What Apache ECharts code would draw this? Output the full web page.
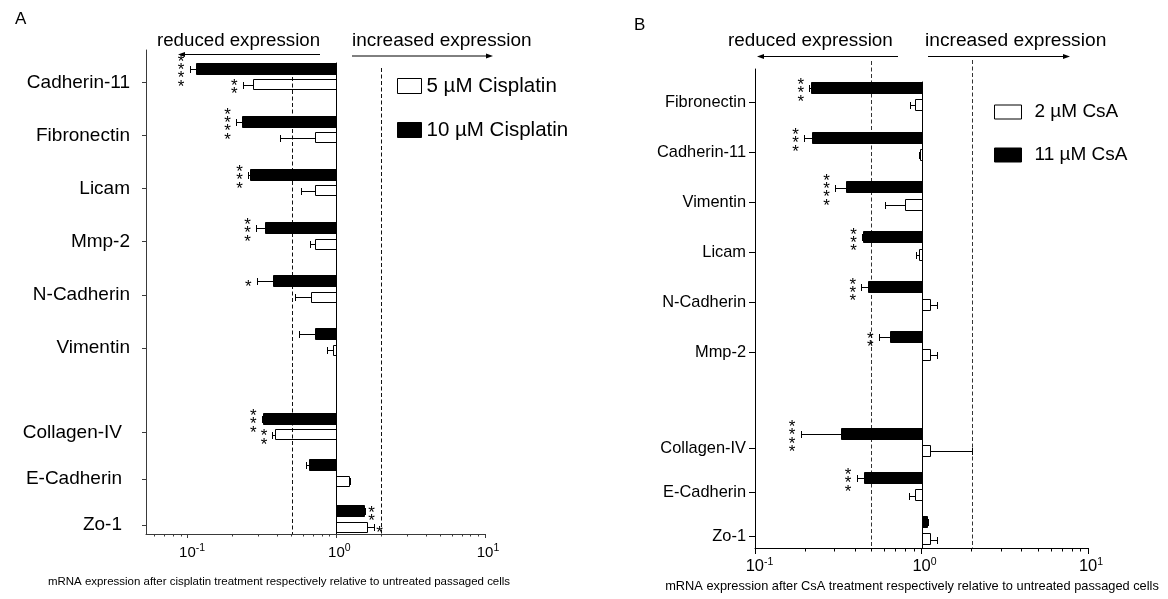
<!DOCTYPE html>
<html><head><meta charset="utf-8">
<script src="https://cdn.jsdelivr.net/npm/echarts@6/dist/echarts.min.js"></script>
<style>html,body{margin:0;padding:0;background:#fff}#c{width:1168px;height:599px}</style>
</head><body><div id="c"></div>
<script>
// ---------- DATA: Panel A (cisplatin) ----------
const catsA1 = ['Cadherin-11', 'Fibronectin', 'Licam', 'Mmp-2', 'N-Cadherin', 'Vimentin'];
const catsA2 = ['Collagen-IV', 'E-Cadherin', 'Zo-1'];
const cis10_top = [0.114, 0.232, 0.261, 0.329, 0.378, 0.714];
const cis10_top_sem = [0.011, 0.020, 0.006, 0.040, 0.086, 0.157];
const cis10_top_sig = ['****', '****', '***', '***', '*', ''];
const cis5_top = [0.275, 0.723, 0.723, 0.723, 0.679, 0.944];
const cis5_top_sem = [0.040, 0.308, 0.142, 0.062, 0.149, 0.078];
const cis5_top_sig = ['**', '', '', '', '', ''];
const cis10_bot = [0.32, 0.66, 1.54];
const cis10_bot_sem = [0.005, 0.03, 0.03];
const cis10_bot_sig = ['***', '', '**'];
const cis5_bot = [0.387, 1.22, 1.60];
const cis5_bot_sem = [0.015, 0.02, 0.18];
const cis5_bot_sig = ['**', '', '*'];
// ---------- DATA: Panel B (CsA) ----------
const catsB1 = ['Fibronectin', 'Cadherin-11', 'Vimentin', 'Licam', 'N-Cadherin', 'Mmp-2'];
const catsB2 = ['Collagen-IV', 'E-Cadherin', 'Zo-1'];
const csa11_top = [0.216, 0.219, 0.354, 0.448, 0.477, 0.646];
const csa11_top_sem = [0.004, 0.022, 0.051, 0.008, 0.042, 0.091];
const csa11_top_sig = ['***', '***', '****', '***', '***', '**'];
const csa2_top = [0.908, 0.98, 0.795, 0.964, 1.13, 1.12];
const csa2_top_sem = [0.06, 0.01, 0.188, 0.034, 0.11, 0.12];
const csa2_top_sig = ['', '', '', '', '', ''];
const csa11_bot = [0.330, 0.453, 1.08];
const csa11_bot_sem = [0.142, 0.045, 0.01];
const csa11_bot_sig = ['****', '***', ''];
const csa2_bot = [1.125, 0.916, 1.125];
const csa2_bot_sem = [0.88, 0.08, 0.12];
const csa2_bot_sig = ['', '', ''];
// ---------- axis ticks / reference lines ----------
const majorTicks = [0.1, 1, 10];
const minorTicks = [0.06, 0.07, 0.08, 0.09, 0.2, 0.3, 0.4, 0.5, 0.6, 0.7, 0.8, 0.9, 2, 3, 4, 5, 6, 7, 8, 9];
const thresholds = [0.5, 2];
const legA = ['5 µM Cisplatin', '10 µM Cisplatin'];
const legB = ['2 µM CsA', '11 µM CsA'];

const FONT = '"Liberation Sans", Arial, Helvetica, sans-serif';

// ---------- layout ----------
const LAY = {
  A: {left: 146, top: 50, width: 339, height: 484, xmin: 0.0525, axisColor: '#3a3a3a',
      p1: 82.4, s1: 53.1, p2: 432.5, s2: 46.35,
      blackTop: -19.8, blackH: 12, whiteTop: -3.2, whiteH: 11, cap: 7,
      yfs: 19, ymargin1: 16, ymargin2: 24, ytick: 4, xfs: 15, xmaj: 4, xmin_t: 2.5, dashTop: [77, 68], dashColor: '#111'},
  B: {left: 755, top: 69, width: 333, height: 479, xmin: 0.1, axisColor: '#000',
      p1: 102.6, s1: 49.9, p2: 448.7, s2: 44,
      blackTop: -21, blackH: 12.4, whiteTop: -3.4, whiteH: 12.4, cap: 7,
      yfs: 16.4, ymargin1: 9, ymargin2: 9, ytick: 6, xfs: 16.5, xmaj: 6, xmin_t: 3.5, dashTop: [61, 60], dashColor: '#333'}
};

function xLabelFormatter(v) {
  const e = Math.round(Math.log10(v));
  return (e < 0 ? '{bn|10}' : '{bp|10}') + '{s|' + e + '}';
}
function xAxes(gi, L) {
  const rich = {
    bn: {fontSize: L.xfs, fontFamily: FONT, color: '#000', lineHeight: 20, padding: [0, 0, 0, 9]},
    bp: {fontSize: L.xfs, fontFamily: FONT, color: '#000', lineHeight: 20, padding: [0, 0, 0, 6]},
    s: {fontSize: 10.5, fontFamily: FONT, color: '#000', lineHeight: 11, verticalAlign: 'top'}
  };
  return [{
    type: 'log', logBase: 10, gridIndex: gi, position: 'bottom', min: L.xmin, max: 10,
    axisLine: {show: true, onZero: false, lineStyle: {color: L.axisColor, width: 1}},
    axisTick: {show: true, customValues: majorTicks, length: L.xmaj, lineStyle: {color: L.axisColor}},
    axisLabel: {show: true, customValues: majorTicks, formatter: xLabelFormatter, rich: rich, margin: 8.5},
    splitLine: {show: false}
  }, {
    type: 'log', logBase: 10, gridIndex: gi, position: 'bottom', min: L.xmin, max: 10,
    axisLine: {show: false, onZero: false},
    axisTick: {show: true, customValues: minorTicks, length: L.xmin_t, lineStyle: {color: L.axisColor}},
    axisLabel: {show: false},
    splitLine: {show: false}
  }];
}
function yAxis(gi, cats, p0, step, L, showLine, margin) {
  const idx = cats.map((c, i) => i);
  return {
    type: 'value', gridIndex: gi, inverse: true, position: 'left',
    min: (L.top - p0) / step, max: (L.top + L.height - p0) / step,
    axisLine: {show: showLine, onZero: false, lineStyle: {color: L.axisColor, width: 1}},
    axisTick: {show: true, customValues: idx, length: L.ytick, lineStyle: {color: L.axisColor}},
    axisLabel: {show: true, customValues: idx, formatter: v => cats[Math.round(v)] || '',
      fontSize: L.yfs, fontFamily: FONT, color: '#000', margin: margin},
    splitLine: {show: false}
  };
}

function barSeries(name, vals, sems, sigs, kind, L, xi, yi) {
  return {
    type: 'custom', name: name, xAxisIndex: xi, yAxisIndex: yi, z: 3, silent: true,
    data: vals.map((v, i) => [v, i]),
    renderItem: function (params, api) {
      const i = params.dataIndex;
      const v = api.value(0), k = api.value(1);
      const end = v < 1 ? v - sems[i] : v + sems[i];
      const p1 = api.coord([1, k]);
      const pv = api.coord([v, k]);
      const pe = api.coord([end, k]);
      const top = p1[1] + (kind === 'black' ? L.blackTop : L.whiteTop);
      const h = kind === 'black' ? L.blackH : L.whiteH;
      const cy = Math.round(top + h / 2) + 0.5;
      const xa = Math.round(Math.min(p1[0], pv[0])) + 0.5;
      const xb = Math.round(Math.max(p1[0], pv[0])) + 0.5;
      const xe = Math.round(pe[0]) + 0.5;
      const xv = Math.round(pv[0]) + 0.5;
      const ch = [];
      ch.push({type: 'line', shape: {x1: xv, y1: cy, x2: xe, y2: cy}, style: {stroke: '#000', lineWidth: 1}});
      ch.push({type: 'line', shape: {x1: xe, y1: cy - L.cap / 2, x2: xe, y2: cy + L.cap / 2}, style: {stroke: '#000', lineWidth: 1}});
      ch.push({type: 'rect', shape: {x: xa, y: Math.round(top) + 0.5, width: Math.max(xb - xa, 1), height: Math.round(h) - 1},
        style: {fill: kind === 'black' ? '#000' : 'rgba(255,255,255,0)', stroke: '#000', lineWidth: 1}});
      const sg = sigs[i];
      if (sg) {
        const sx = v < 1 ? pe[0] - 8.5 : pe[0] + 6;
        ch.push({type: 'text', x: sx, y: top + h / 2 + 2 + 3.9,
          style: {text: sg.split('').join('\n'), fontSize: 17, lineHeight: 8.3, fontFamily: FONT,
            fill: '#000', align: 'center', verticalAlign: 'middle'}});
      }
      return {type: 'group', children: ch};
    }
  };
}

function guideSeries(L, xi, yi) {
  return {
    type: 'custom', xAxisIndex: xi, yAxisIndex: yi, z: 1, silent: true,
    data: [[1, 0]],
    renderItem: function (params, api) {
      const cs = params.coordSys;
      const bottom = cs.y + cs.height;
      const x1 = Math.round(api.coord([1, 0])[0]) + 0.5;
      const yTop = api.coord([1, 0])[1] + L.blackTop;
      const ch = [{type: 'line', shape: {x1: x1, y1: yTop, x2: x1, y2: bottom}, style: {stroke: '#000', lineWidth: 1}}];
      thresholds.forEach((t, j) => {
        const x = Math.round(api.coord([t, 0])[0]) + 0.5;
        ch.push({type: 'line', shape: {x1: x, y1: L.dashTop[j], x2: x, y2: bottom},
          style: {stroke: L.dashColor, lineWidth: 1, lineDash: [4, 2.5]}});
      });
      return {type: 'group', children: ch};
    }
  };
}

function arrow(x1, x2, y) {
  const d = x2 > x1 ? 1 : -1;
  return [
    {type: 'line', shape: {x1: x1, y1: y, x2: x2 - d * 3, y2: y}, style: {stroke: '#000', lineWidth: 1}},
    {type: 'polygon', shape: {points: [[x2, y], [x2 - d * 7, y - 2.6], [x2 - d * 7, y + 2.6]]}, style: {fill: '#000'}}
  ];
}
function txt(x, y, text, fs, align) {
  return {type: 'text', x: x, y: y, style: {text: text, fontSize: fs, fontFamily: FONT, fill: '#000',
    align: align || 'left', verticalAlign: 'middle'}};
}

const A = LAY.A, B = LAY.B;
const option = {
  animation: false,
  backgroundColor: '#fff',
  grid: [
    {left: A.left, top: A.top, width: A.width, height: A.height, outerBoundsMode: 'none'},
    {left: B.left, top: B.top, width: B.width, height: B.height, outerBoundsMode: 'none'}
  ],
  xAxis: [...xAxes(0, A), ...xAxes(1, B)],
  yAxis: [
    yAxis(0, catsA1, A.p1, A.s1, A, true, A.ymargin1),
    yAxis(0, catsA2, A.p2, A.s2, A, false, A.ymargin2),
    yAxis(1, catsB1, B.p1, B.s1, B, true, B.ymargin1),
    yAxis(1, catsB2, B.p2, B.s2, B, false, B.ymargin2)
  ],
  legend: [
    {orient: 'vertical', left: 397, top: 75.5, padding: 0, itemWidth: 24, itemHeight: 15, itemGap: 23,
      selectedMode: false, textStyle: {fontSize: 20.5, fontFamily: FONT, color: '#000', lineHeight: 20},
      data: [{name: legA[0], icon: 'rect', itemStyle: {color: '#fff', borderColor: '#000', borderWidth: 1}},
             {name: legA[1], icon: 'rect', itemStyle: {color: '#000', borderColor: '#000', borderWidth: 1}}]},
    {orient: 'vertical', left: 994, top: 102, padding: 0, itemWidth: 27, itemHeight: 14, itemGap: 23,
      selectedMode: false, textStyle: {fontSize: 19, fontFamily: FONT, color: '#000', lineHeight: 20, padding: [0, 0, 0, 8]},
      data: [{name: legB[0], icon: 'rect', itemStyle: {color: '#fff', borderColor: '#000', borderWidth: 1}},
             {name: legB[1], icon: 'rect', itemStyle: {color: '#000', borderColor: '#000', borderWidth: 1}}]}
  ],
  series: [
    guideSeries(A, 0, 0),
    barSeries(legA[1], cis10_top, cis10_top_sem, cis10_top_sig, 'black', A, 0, 0),
    barSeries(legA[0], cis5_top, cis5_top_sem, cis5_top_sig, 'white', A, 0, 0),
    barSeries(legA[1], cis10_bot, cis10_bot_sem, cis10_bot_sig, 'black', A, 0, 1),
    barSeries(legA[0], cis5_bot, cis5_bot_sem, cis5_bot_sig, 'white', A, 0, 1),
    guideSeries(B, 2, 2),
    barSeries(legB[1], csa11_top, csa11_top_sem, csa11_top_sig, 'black', B, 2, 2),
    barSeries(legB[0], csa2_top, csa2_top_sem, csa2_top_sig, 'white', B, 2, 2),
    barSeries(legB[1], csa11_bot, csa11_bot_sem, csa11_bot_sig, 'black', B, 2, 3),
    barSeries(legB[0], csa2_bot, csa2_bot_sem, csa2_bot_sig, 'white', B, 2, 3)
  ],
  graphic: {elements: [
    txt(15, 19, 'A', 17),
    txt(634, 25, 'B', 17),
    txt(157, 41, 'reduced expression', 18.7),
    txt(352, 41, 'increased expression', 19),
    txt(728, 41, 'reduced expression', 18.9),
    txt(925, 41, 'increased expression', 19.2),
    ...arrow(320, 178, 54.5),
    ...arrow(352, 493, 56),
    ...arrow(898, 757, 56.5),
    ...arrow(928, 1070, 56.5),
    txt(279, 582, 'mRNA expression after cisplatin treatment respectively relative to untreated passaged cells', 11.47, 'center'),
    txt(912, 586, 'mRNA expression after CsA treatment respectively relative to untreated passaged cells', 12.8, 'center')
  ]}
};
const chart = echarts.init(document.getElementById('c'), null, {renderer: 'canvas'});
chart.setOption(option);
</script></body></html>
